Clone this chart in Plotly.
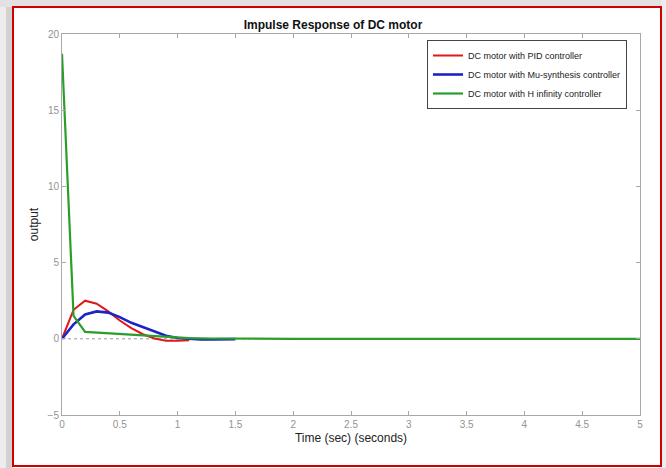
import plotly.graph_objects as go

# ---- data ----
t_pid = [0, 0.1, 0.2, 0.3, 0.4, 0.5, 0.6, 0.7, 0.8, 0.9, 1.0, 1.1]
y_pid = [0, 1.9, 2.5, 2.3, 1.8, 1.2, 0.7, 0.3, 0.02, -0.12, -0.13, -0.1]

t_mu = [0, 0.1, 0.2, 0.3, 0.4, 0.5, 0.6, 0.7, 0.8, 0.9, 1.0, 1.1, 1.2, 1.3, 1.4, 1.5]
y_mu = [0, 0.95, 1.6, 1.8, 1.72, 1.42, 1.05, 0.75, 0.45, 0.2, 0.05, -0.02, -0.04, -0.04, -0.03, -0.02]

t_hinf = [0, 0.1, 0.2, 0.3, 0.4, 0.5, 0.6, 0.7, 0.8, 0.9, 1.0, 1.1, 1.3, 1.6, 2.0, 5.0]
y_hinf = [18.7, 1.5, 0.45, 0.4, 0.35, 0.3, 0.25, 0.2, 0.16, 0.12, 0.08, 0.05, 0.02, 0.01, 0.0, 0.0]

zero_t = [0, 5]
zero_y = [0, 0]

names = ["DC motor with PID controller",
         "DC motor with Mu-synthesis controller",
         "DC motor with H infinity controller"]
x_ticks = [0, 0.5, 1, 1.5, 2, 2.5, 3, 3.5, 4, 4.5, 5]
y_ticks = [-5, 0, 5, 10, 15, 20]

# ---- layout geometry ----
W, H = 666, 468
L, R, T, B = 62, 26, 34, 53
pw, ph = W - L - R, H - T - B


def px(x):
    return (x - L) / pw


def py(y):
    return (H - B - y) / ph


fig = go.Figure()
fig.add_trace(go.Scatter(x=zero_t, y=zero_y, mode="lines", showlegend=False,
                         line=dict(color="#9a9a9a", width=1, dash="dot"), hoverinfo="skip"))
fig.add_trace(go.Scatter(x=t_pid, y=y_pid, mode="lines", name=names[0],
                         line=dict(color="#e01818", width=2)))
fig.add_trace(go.Scatter(x=t_mu, y=y_mu, mode="lines", name=names[1],
                         line=dict(color="#1c24c8", width=2.6)))
fig.add_trace(go.Scatter(x=t_hinf, y=y_hinf, mode="lines", name=names[2],
                         line=dict(color="#2a9e2a", width=2.2)))

axis_common = dict(showgrid=False, zeroline=False, showline=True, linecolor="#a8a8a8",
                   linewidth=1, mirror="ticks", ticks="inside", ticklen=4,
                   tickcolor="#a8a8a8", tickfont=dict(family="Arial", size=10, color="#939393"),
                   title_font=dict(family="Arial", size=12, color="#222"))

fig.update_xaxes(range=[0, 5], tickvals=x_ticks, title_text="Time (sec) (seconds)",
                 title_standoff=4, **axis_common)
fig.update_yaxes(range=[-5, 20], tickvals=y_ticks, title_text="output",
                 title_standoff=6, **axis_common)

shapes = [
    # shadow left / top / right
    dict(type="rect", xref="paper", yref="paper", x0=px(0), x1=px(6), y0=py(H), y1=py(0),
         fillcolor="#ececec", line_width=0, layer="below"),
    dict(type="rect", xref="paper", yref="paper", x0=px(6), x1=px(13), y0=py(H), y1=py(2),
         fillcolor="#d2d2d2", line_width=0, layer="below"),
    dict(type="rect", xref="paper", yref="paper", x0=px(0), x1=px(W), y0=py(7), y1=py(0),
         fillcolor="#e2e2e2", line_width=0, layer="below"),
    dict(type="rect", xref="paper", yref="paper", x0=px(661), x1=px(W), y0=py(H), y1=py(0),
         fillcolor="#ededed", line_width=0, layer="below"),
    # white inner panel with red frame
    dict(type="rect", xref="paper", yref="paper", x0=px(13), x1=px(661), y0=py(466), y1=py(7),
         fillcolor="white", line=dict(color="#d00000", width=2), layer="below"),
]

fig.update_layout(
    width=W, height=H,
    margin=dict(l=L, r=R, t=T, b=B, autoexpand=False),
    paper_bgcolor="white", plot_bgcolor="white",
    shapes=shapes,
    title=dict(text="<b>Impulse Response of DC motor</b>", x=px(351), xanchor="center",
               y=1 - 25 / H, yanchor="middle",
               font=dict(family="Arial", size=12, color="#111")),
    legend=dict(x=px(427), y=py(40), xanchor="left", yanchor="top",
                bgcolor="white", bordercolor="#444", borderwidth=1,
                font=dict(family="Arial", size=9, color="#222"),
                tracegroupgap=0, itemwidth=30),
    showlegend=True,
)

fig.write_html("out.html", config={"displayModeBar": False},
               post_script="document.body.style.margin='0px';document.body.style.overflow='hidden';")
